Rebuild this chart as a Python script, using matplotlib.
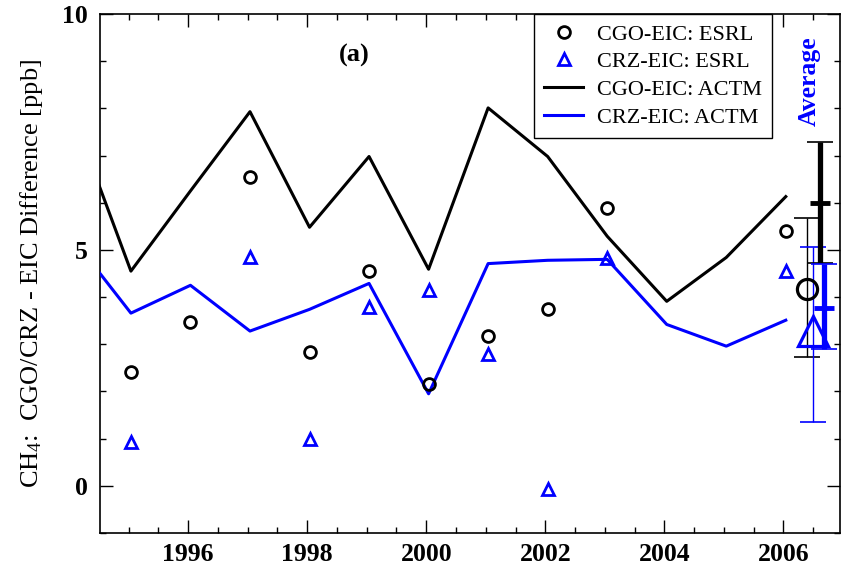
import numpy as np
import matplotlib
matplotlib.use("Agg")
import matplotlib.pyplot as plt
from matplotlib.ticker import MultipleLocator

plt.rcParams['font.family'] = ['Liberation Serif', 'DejaVu Serif']
plt.rcParams['mathtext.fontset'] = 'custom'
plt.rcParams['mathtext.rm'] = 'Liberation Serif'
plt.rcParams['mathtext.it'] = 'Liberation Serif:italic'

# ---- data (ppb) ----
# model (ACTM) yearly differences
model_years = [1994.04, 1995.04, 1996.04, 1997.04, 1998.04, 1999.04, 2000.04,
               2001.04, 2002.04, 2003.04, 2004.04, 2005.04, 2006.04]
cgo_actm = [7.95, 4.55, 6.25, 7.93, 5.48, 6.98, 4.59, 8.01, 6.98, 5.29, 3.91, 4.84, 6.13]
crz_actm = [5.28, 3.66, 4.25, 3.28, 3.74, 4.29, 1.95, 4.71, 4.78, 4.80, 3.42, 2.96, 3.51]

# observations (ESRL)
cgo_years = [1995.04, 1996.04, 1997.04, 1998.04, 1999.04, 2000.04, 2001.04, 2002.04, 2003.04, 2006.04]
cgo_esrl = [2.41, 3.47, 6.55, 2.83, 4.55, 2.16, 3.17, 3.74, 5.88, 5.41]
crz_years = [1995.04, 1997.04, 1998.04, 1999.04, 2000.04, 2001.04, 2002.04, 2003.04, 2006.04]
crz_esrl = [0.92, 4.86, 1.0, 3.8, 4.16, 2.79, -0.06, 4.82, 4.55]

# averages: (x, mean, low, high)
avg_cgo_obs = (2006.39, 4.18, 2.72, 5.68)
avg_crz_obs = (2006.49, 3.28, 1.36, 5.07)
avg_cgo_mod = (2006.61, 6.00, 4.73, 7.28)
avg_crz_mod = (2006.69, 3.76, 2.90, 4.71)

fig = plt.figure(figsize=(8.5, 5.72), dpi=100)
ax = fig.add_axes([0.1176, 0.0682, 0.8706, 0.9073])

ax.plot(model_years, cgo_actm, color='black', lw=2.2, label='CGO-EIC: ACTM', zorder=3)
ax.plot(model_years, crz_actm, color='blue', lw=2.2, label='CRZ-EIC: ACTM', zorder=3)
ax.plot(cgo_years, cgo_esrl, 'o', ms=8.5, mfc='none', mec='black', mew=2,
        label='CGO-EIC: ESRL', zorder=4)
ax.plot(crz_years, crz_esrl, '^', ms=9, mfc='none', mec='blue', mew=2,
        label='CRZ-EIC: ESRL', zorder=4)

# average bars
def avg_bar(a, color, lw, marker, ms, mew):
    x, m, lo, hi = a
    ax.errorbar([x], [m], yerr=[[m - lo], [hi - m]], fmt='none', ecolor=color,
                elinewidth=lw, capsize=9.7, capthick=1.2, zorder=5)
    ax.plot([x], [m], marker, ms=ms, mfc='none', mec=color, mew=mew, zorder=6)

avg_bar(avg_cgo_obs, 'black', 1.0, 'o', 14.5, 2.3)
avg_bar(avg_crz_obs, 'blue', 1.0, '^', 21, 2.3)
avg_bar(avg_cgo_mod, 'black', 3.8, '_', 14, 3.5)
avg_bar(avg_crz_mod, 'blue', 3.8, '_', 14, 3.5)

ax.set_xlim(1994.52, 2006.95)
ax.set_ylim(-1, 10)
ax.xaxis.set_major_locator(MultipleLocator(2))
ax.xaxis.set_minor_locator(MultipleLocator(0.5))
ax.yaxis.set_major_locator(MultipleLocator(5))
ax.yaxis.set_minor_locator(MultipleLocator(1))
ax.tick_params(which='both', direction='in', top=True, right=True, width=1)
ax.tick_params(which='major', length=9.5, labelsize=18.5)
ax.tick_params(axis='x', which='major', pad=7)
ax.tick_params(axis='y', which='major', pad=9)
ax.tick_params(which='minor', length=4.5)
for lab in ax.get_xticklabels() + ax.get_yticklabels():
    lab.set_fontweight('bold')
for s in ax.spines.values():
    s.set_linewidth(1.2)

ax.set_ylabel(r'CH$_4$:  CGO/CRZ - EIC Difference [ppb]', fontsize=19, labelpad=12)

ax.text(0.343, 0.921, '(a)', transform=ax.transAxes, fontsize=19, fontweight='bold',
        ha='center', va='center')
ax.text(2006.44, 8.58, 'Average', color='blue', fontsize=18.5, fontweight='bold',
        rotation=90, ha='center', va='center')

handles, labels = ax.get_legend_handles_labels()
order = [2, 3, 0, 1]
leg = ax.legend([handles[i] for i in order], [labels[i] for i in order],
                loc='upper right', bbox_to_anchor=(0.9077, 1.0), fontsize=16,
                frameon=True, fancybox=False, edgecolor='black', framealpha=1,
                borderpad=0.45, borderaxespad=0, handlelength=1.75, handletextpad=0.6,
                labelspacing=0.32)
leg.get_frame().set_linewidth(1.0)

fig.savefig('out.png', dpi=100)
